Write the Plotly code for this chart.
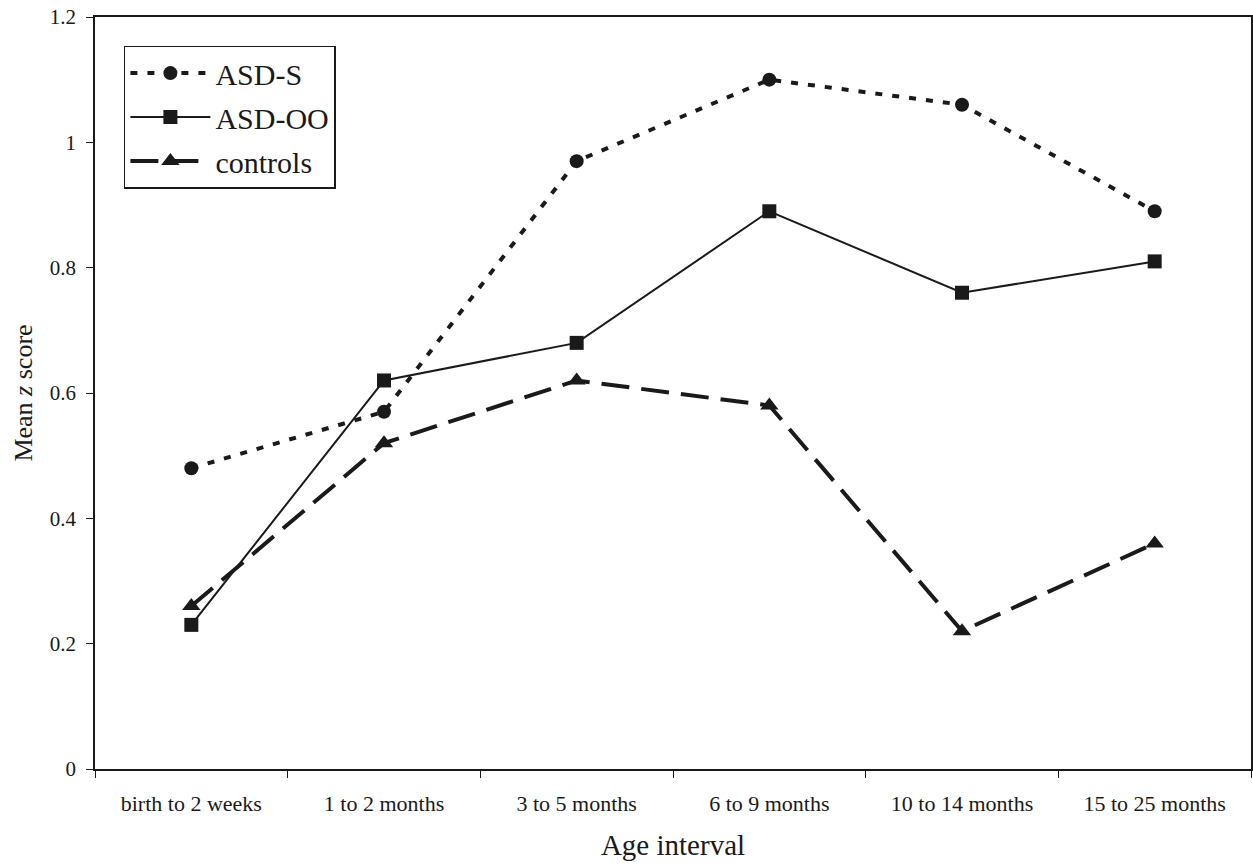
import plotly.graph_objects as go

categories = ["birth to 2 weeks", "1 to 2 months", "3 to 5 months",
              "6 to 9 months", "10 to 14 months", "15 to 25 months"]
asd_s = [0.48, 0.57, 0.97, 1.10, 1.06, 0.89]
asd_oo = [0.23, 0.62, 0.68, 0.89, 0.76, 0.81]
controls = [0.26, 0.52, 0.62, 0.58, 0.22, 0.36]
y_ticks = [0, 0.2, 0.4, 0.6, 0.8, 1, 1.2]
y_tick_labels = ["0", "0.2", "0.4", "0.6", "0.8", "1", "1.2"]

FONT = "Liberation Serif, Times New Roman, serif"
BLACK = "#1a1a1a"

fig = go.Figure()
fig.add_trace(go.Scatter(x=categories, y=asd_s, name="ASD-S", mode="lines+markers",
                         legendgroup="a",
                         line=dict(color=BLACK, width=4, dash="7px,10px"),
                         marker=dict(symbol="circle", size=14, color=BLACK)))
fig.add_trace(go.Scatter(x=categories, y=asd_oo, name="ASD-OO", mode="lines+markers",
                         legendgroup="b",
                         line=dict(color=BLACK, width=2),
                         marker=dict(symbol="square", size=14, color=BLACK)))
fig.add_trace(go.Scatter(x=categories, y=controls, name="controls", mode="lines+markers",
                         legendgroup="c",
                         line=dict(color=BLACK, width=4, dash="28px,12px"),
                         marker=dict(symbol="triangle-up", size=16, color=BLACK)))

fig.update_layout(
    width=1253, height=868,
    margin=dict(l=95, r=2, t=17, b=99),
    paper_bgcolor="white", plot_bgcolor="white",
    font=dict(family=FONT, color=BLACK),
    showlegend=True,
    legend=dict(x=0.025, y=0.962, xanchor="left", yanchor="top",
                bordercolor=BLACK, borderwidth=1.5, bgcolor="white",
                font=dict(size=30, family=FONT, color=BLACK),
                itemwidth=80, tracegroupgap=2),
)
fig.update_xaxes(
    type="category", tickson="boundaries", ticks="outside", ticklen=7,
    tickcolor=BLACK, showline=True, linecolor=BLACK, linewidth=1.5, mirror=True,
    showgrid=False, zeroline=False, range=[-0.5, 5.5], automargin=False,
    tickfont=dict(size=22, family=FONT, color=BLACK), ticklabelstandoff=14,
    title=dict(text="Age interval", font=dict(size=29, family=FONT, color=BLACK), standoff=20),
)
fig.update_yaxes(
    range=[0, 1.2], tickmode="array", tickvals=y_ticks, ticktext=y_tick_labels,
    ticks="outside", ticklen=7, ticklabeloverflow="allow", automargin=False,
    tickcolor=BLACK, showline=True, linecolor=BLACK, linewidth=1.5, mirror=True,
    showgrid=False, zeroline=False,
    tickfont=dict(size=21, family=FONT, color=BLACK), ticklabelstandoff=6,
    title=dict(text="Mean <i>z</i> score", font=dict(size=26, family=FONT, color=BLACK), standoff=10),
)
# Remove the page's default body margin so the figure sits at the window's top-left corner.
fig.write_html("out.html", config={"displayModeBar": False},
               post_script="document.body.style.margin='0';")
